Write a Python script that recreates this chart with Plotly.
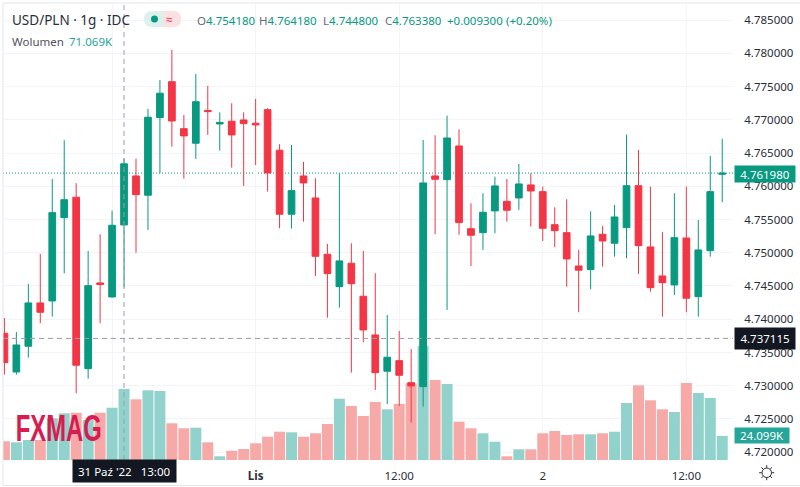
"""USD/PLN 1h candles with volume, drawn in the style of a TradingView pane."""
import plotly.graph_objects as go

W, H = 800, 487
PANE_L, PANE_R, PANE_T, PANE_B = 3, 733, 4, 460

UP, DOWN = "#089981", "#F23645"
VOL_UP, VOL_DOWN = "#92D2CC", "#F7A9A7"
INK, MUTED, GRID = "#2A2E39", "#6A6D78", "#F3F4F7"
FONT = "Noto Sans, Open Sans, sans-serif"

opens = [4.73789, 4.73207, 4.73594, 4.74245, 4.74275, 4.75528, 4.75835, 4.73257, 4.74546, 4.74335,
         4.75418, 4.76155, 4.75865, 4.77032, 4.77573, 4.76866, 4.76647, 4.7714, 4.76937, 4.76978,
         4.76997, 4.76948, 4.77152, 4.76542, 4.75579, 4.76155, 4.75824, 4.74977, 4.7449, 4.74842,
         4.74346, 4.73764, 4.73218, 4.73377, 4.73046, 4.72986, 4.76155, 4.76099, 4.76606, 4.75362,
         4.75302, 4.75629, 4.75774, 4.75824, 4.7602, 4.75919, 4.75422, 4.75302, 4.74801, 4.74746,
         4.75278, 4.75143, 4.75377, 4.76009, 4.75087, 4.74651, 4.74516, 4.75222, 4.7434, 4.75031,
         4.7618]
highs = [4.74019, 4.73809, 4.74531, 4.74982, 4.7611, 4.76692, 4.76045, 4.75027, 4.75278, 4.75633,
         4.76418, 4.76415, 4.77163, 4.77599, 4.7805, 4.77072, 4.77689, 4.77509, 4.77113, 4.77248,
         4.77113, 4.77313, 4.77173, 4.76632, 4.76621, 4.76366, 4.7612, 4.75132, 4.76196, 4.75143,
         4.75027, 4.74692, 4.74064, 4.73824, 4.73553, 4.76696, 4.76767, 4.77062, 4.76857, 4.75744,
         4.75895, 4.76144, 4.7611, 4.76335, 4.76196, 4.75994, 4.75684, 4.75805, 4.75042, 4.75624,
         4.75403, 4.75719, 4.76776, 4.76546, 4.75994, 4.75313, 4.75895, 4.75994, 4.75493, 4.76456,
         4.76716]
lows = [4.73167, 4.73167, 4.73422, 4.7394, 4.74039, 4.74692, 4.72887, 4.73106, 4.7394, 4.74328,
        4.7448, 4.75001, 4.75343, 4.76196, 4.76596, 4.76114, 4.76411, 4.76772, 4.76535, 4.7628,
        4.76005, 4.7632, 4.75919, 4.75368, 4.75362, 4.75468, 4.74651, 4.74024, 4.74174, 4.73197,
        4.73654, 4.72936, 4.72726, 4.72696, 4.72445, 4.72685, 4.75278, 4.7414, 4.75268, 4.74801,
        4.75042, 4.75293, 4.75468, 4.75644, 4.75392, 4.75177, 4.75083, 4.7449, 4.74105, 4.74451,
        4.74791, 4.74941, 4.74917, 4.74681, 4.74415, 4.74039, 4.74365, 4.74105, 4.74039, 4.74941,
        4.75759]
closes = [4.73347, 4.73613, 4.74245, 4.74105, 4.75603, 4.75798, 4.73308, 4.74505, 4.74523, 4.75413,
          4.76338, 4.75874, 4.77038, 4.77399, 4.76982, 4.76757, 4.77272, 4.77122, 4.7696, 4.76772,
          4.76942, 4.76922, 4.762, 4.75579, 4.75934, 4.7605, 4.74947, 4.74686, 4.74877, 4.74535,
          4.73839, 4.73197, 4.73428, 4.73157, 4.72997, 4.7605, 4.76105, 4.76726, 4.75453, 4.75263,
          4.75609, 4.76005, 4.75639, 4.76035, 4.75929, 4.75368, 4.75332, 4.74907, 4.74737, 4.75253,
          4.75177, 4.75538, 4.76009, 4.75107, 4.74475, 4.7455, 4.75227, 4.74316, 4.75042, 4.75919,
          4.76198]
volumes = [18.7, 17.7, 20.0, 20.0, 41.7, 46.7, 47.3, 40.0, 47.3, 52.3,
           71.069, 60.7, 69.7, 69.0, 36.7, 31.7, 32.3, 17.7, 3.7, 9.3,
           11.0, 16.7, 23.3, 28.3, 27.7, 23.3, 26.7, 36.0, 61.3, 54.0,
           44.0, 58.0, 50.7, 56.0, 76.7, 114.0, 80.0, 76.0, 38.3, 31.7,
           26.7, 18.3, 3.7, 10.7, 10.7, 26.7, 29.0, 25.0, 25.7, 25.7,
           26.7, 28.3, 57.0, 74.7, 59.7, 50.7, 48.0, 77.0, 67.0, 62.0,
           24.099]

price_ticks = [4.72, 4.725, 4.73, 4.735, 4.74, 4.745, 4.75, 4.755, 4.76, 4.765,
               4.77, 4.775, 4.78, 4.785]
time_ticks = [9, 21, 33, 45, 57]
time_labels = ["", "<b>Lis</b>", "12:00", "2", "12:00"]
crosshair_bar, crosshair_price = 10, 4.737115
last_price = 4.76198

bars = list(range(len(opens)))
vol_colors = [VOL_UP if c >= o else VOL_DOWN for o, c in zip(opens, closes)]


def px(x):
    # paper coordinates run over the plot area, not the whole page
    return (x - PANE_L) / (PANE_R - PANE_L)


def py(y):
    return (PANE_B - y) / (PANE_B - PANE_T)


def label(x, y, text, color=INK, size=11.5, **kw):
    anchor = kw.pop("xanchor", "left")
    # annotations carry about 2px of padding on the left
    x = x - 2 if anchor == "left" else x
    return dict(x=px(x), y=py(y), xref="paper", yref="paper", text=text, showarrow=False,
                xanchor=anchor, yanchor="middle",
                font=dict(family=kw.pop("family", FONT), size=size, color=color), **kw)


def box_label(x0, x1, y0, y1, text, bg):
    return label((x0 + x1) / 2, (y0 + y1) / 2, text, color="white", size=11.5, xanchor="center",
                 bgcolor=bg, width=x1 - x0, height=y1 - y0, borderpad=0, align="center")


def paper_rect(x0, y0, x1, y1, **kw):
    return dict(type="rect", xref="paper", yref="paper", x0=px(x0), x1=px(x1),
                y0=py(y0), y1=py(y1), layer="above", **kw)


fig = go.Figure()
fig.add_bar(x=bars, y=volumes, marker=dict(color=vol_colors, line_width=0), yaxis="y", hoverinfo="skip")
fig.add_candlestick(
    x=bars, open=opens, high=highs, low=lows, close=closes, yaxis="y2",
    increasing=dict(line=dict(color=UP, width=1), fillcolor=UP),
    decreasing=dict(line=dict(color=DOWN, width=1), fillcolor=DOWN),
    whiskerwidth=0,
)

shapes = [
    dict(type="line", xref="paper", x0=0, x1=1, yref="y2", y0=last_price, y1=last_price,
         line=dict(color=UP, width=1, dash="1px,2px"), layer="below"),
    dict(type="line", xref="paper", x0=0, x1=1, yref="y2", y0=crosshair_price, y1=crosshair_price,
         line=dict(color="#9A9DA5", width=1, dash="5px,4px"), layer="above"),
    dict(type="line", xref="x", x0=crosshair_bar, x1=crosshair_bar, yref="paper", y0=0, y1=1,
         line=dict(color="#9A9DA5", width=1, dash="5px,4px"), layer="above"),
    paper_rect(PANE_L, 3, W + 2, 485.5, line=dict(color="#E3E5EA", width=1), fillcolor="rgba(0,0,0,0)"),
    # status pill next to the title
    dict(type="path", xref="paper", yref="paper", layer="above", line_width=0, fillcolor="#DDF1EC",
         path=f"M{px(163)},{py(11)} L{px(152)},{py(11)} Q{px(144)},{py(11)} {px(144)},{py(19)} "
              f"Q{px(144)},{py(27)} {px(152)},{py(27)} L{px(163)},{py(27)} Z"),
    dict(type="path", xref="paper", yref="paper", layer="above", line_width=0, fillcolor="#FBE0E4",
         path=f"M{px(163)},{py(11)} L{px(173)},{py(11)} Q{px(181)},{py(11)} {px(181)},{py(19)} "
              f"Q{px(181)},{py(27)} {px(173)},{py(27)} L{px(163)},{py(27)} Z"),
    dict(type="circle", xref="paper", yref="paper", layer="above", line_width=0, fillcolor=UP,
         x0=px(151), x1=px(158), y0=py(15.5), y1=py(22.5)),
    # settings icon
    dict(type="circle", xref="paper", yref="paper", layer="above", line=dict(color=INK, width=1),
         fillcolor="white", x0=px(762), x1=px(771.5), y0=py(468), y1=py(477.5)),
]
for dx0, dy0, dx1, dy1 in [(0, -5, 0, -7.5), (0, 5, 0, 7.5), (-5, 0, -7.5, 0), (5, 0, 7.5, 0),
                           (3.5, -3.5, 5.3, -5.3), (-3.5, -3.5, -5.3, -5.3),
                           (3.5, 3.5, 5.3, 5.3), (-3.5, 3.5, -5.3, 5.3)]:
    shapes.append(dict(type="line", xref="paper", yref="paper", layer="above",
                       line=dict(color=INK, width=1),
                       x0=px(766.7 + dx0), x1=px(766.7 + dx1),
                       y0=py(472.7 + dy0), y1=py(472.7 + dy1)))

annotations = [
    label(12, 20, "USD/PLN · 1g · IDC", size=13.5),
    label(12, 41.5, "Wolumen", color="#50535E"),
    label(69, 41.5, "71.069K", color="#26A69A"),
    label(166, 19.5, "≈", color=DOWN, size=12),
    label(197, 20, f'<span style="color:{MUTED}">O</span>4.754180', color=UP),
    label(259, 20, f'<span style="color:{MUTED}">H</span>4.764180', color=UP),
    label(323, 20, f'<span style="color:{MUTED}">L</span>4.744800', color=UP),
    label(385, 20, f'<span style="color:{MUTED}">C</span>4.763380', color=UP),
    label(447, 20, "+0.009300", color=UP),
    label(506, 20, "(+0.20%)", color=UP),
    label(59, 428, "<b>FXMAG</b>", color="#D81B50", size=37, xanchor="center",
          family="Liberation Sans, sans-serif"),
    box_label(735, 795, 166, 182, "4.761980", UP),
    box_label(735, 795, 328, 349, "4.737115", "#131722"),
    box_label(735, 789, 428, 443, "24.099K", "#26A69A"),
    box_label(73, 175.5, 460, 482, "31 Paź '22&nbsp;&nbsp;&nbsp;13:00", "#131722"),
]

fig.update_layout(
    width=W, height=H, autosize=False, showlegend=False,
    paper_bgcolor="white", plot_bgcolor="white",
    margin=dict(l=PANE_L, r=W - PANE_R, t=PANE_T, b=H - PANE_B, pad=0),
    font=dict(family=FONT, size=12, color=INK),
    bargap=0.08, boxgap=0.2,
    xaxis=dict(range=[-0.117, 60.9], tickvals=time_ticks, ticktext=time_labels, showgrid=True,
               gridcolor=GRID, gridwidth=1, zeroline=False, showline=False, ticks="outside",
               ticklen=5, tickcolor="white", rangeslider_visible=False, tickfont=dict(size=11.5, color=INK)),
    yaxis=dict(range=[0, 456], visible=False, fixedrange=True),
    yaxis2=dict(range=[4.71883, 4.78741], overlaying="y", side="right", tickvals=price_ticks,
                tickformat=".6f", showgrid=True, gridcolor=GRID, gridwidth=1, zeroline=False,
                showline=False, ticks="outside", ticklen=8, tickcolor="white",
                tickfont=dict(size=11.5, color=INK)),
    shapes=shapes, annotations=annotations,
)

# squeeze the watermark into its condensed look; no narrow bold font is installed
squeeze = """
document.body.style.margin = '0';
document.querySelectorAll('.annotation-text').forEach(function (t) {
  if (t.textContent === 'FXMAG') {
    t.setAttribute('textLength', '86');
    t.setAttribute('lengthAdjust', 'spacingAndGlyphs');
  }
});
"""
fig.write_html("out.html", config=dict(displayModeBar=False), post_script=squeeze)
